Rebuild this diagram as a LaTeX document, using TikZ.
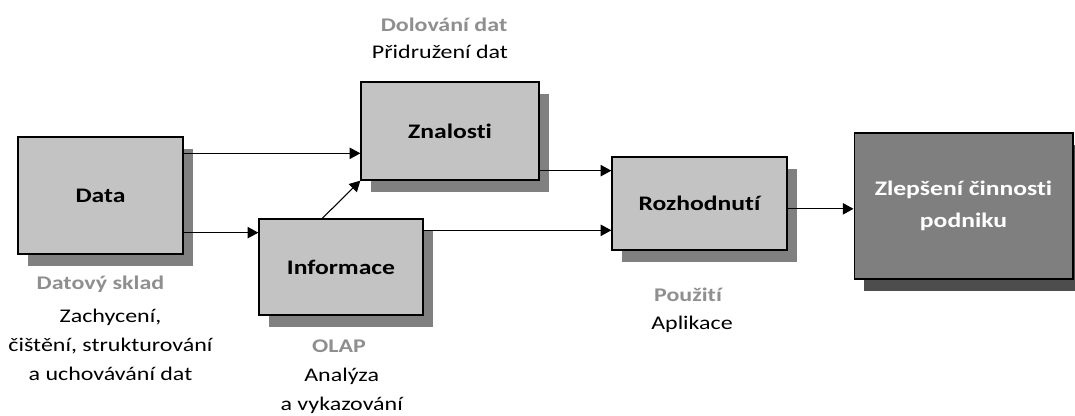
\documentclass[tikz,border=0pt]{standalone}
\usepackage{fontspec}
\setmainfont{Carlito}[FakeStretch=1.24,Ligatures=NoCommon]
\usepackage{xcolor}
\usetikzlibrary{positioning, arrows.meta, shadows}

\definecolor{boxgray}{HTML}{C3C3C3}
\definecolor{shadegray}{HTML}{808080}
\definecolor{goalgray}{HTML}{7F7F7F}
\definecolor{goalshade}{HTML}{4D4D4D}
\definecolor{taggray}{HTML}{8F8F8F}

\begin{document}
\begin{tikzpicture}[x=0.75pt,y=-0.75pt,>={Triangle[length=8pt,width=8.5pt]},
        stage/.style={draw=black,line width=1pt,fill=boxgray,
          font=\fontsize{15.5}{18}\selectfont\bfseries,
          drop shadow={shadow xshift=7.5pt,shadow yshift=-9pt,fill=shadegray,opacity=1}},
        goal/.style={draw=black,line width=1pt,fill=goalgray,text=white,align=center,
          font=\fontsize{15.5}{24.5}\selectfont\bfseries,
          drop shadow={shadow xshift=7.5pt,shadow yshift=-9pt,fill=goalshade,opacity=1}},
        tag/.style={text=taggray,inner sep=0pt,font=\fontsize{14.5}{18}\selectfont\bfseries},
        desc/.style={align=center,inner sep=0pt,font=\fontsize{14.5}{21.75}\selectfont},
        flow/.style={->,line width=0.8pt}]

    \useasboundingbox (0,0) rectangle (1075,416);

    % the boxes
    \node[stage,minimum width=123.75pt,minimum height=87.75pt] (data) at (100.5,195.5) {Data};
    \node[stage,minimum width=133.5pt,minimum height=73.5pt] (znalosti) at (450,131) {Znalosti};
    \node[stage,minimum width=123pt,minimum height=72pt] (informace) at (341,267) {Informace};
    \node[stage,minimum width=131.25pt,minimum height=69.75pt] (rozhodnuti) at (699.5,203.5) {Rozhodnutí};
    \node[goal,minimum width=164pt,minimum height=109.5pt] (zlepseni) at (963.5,206) {Zlepšení činnosti\\podniku};

    % labels
    \node[tag,below=16pt of data] (sklad) {Datový sklad};
    \node[desc,below=12pt of sklad,xshift=7.5pt] (skladtext) {Zachycení,\\čištění, strukturování\\a uchovávání dat};
    \node[tag,below=18pt of informace,xshift=-1.5pt] (olap) {OLAP};
    \node[desc,below=11pt of olap,xshift=2pt] (olaptext) {Analýza\\a vykazování};
    \node[desc,above=16.5pt of znalosti,xshift=-7.5pt] (dolovanitext) {Přidružení dat};
    \node[tag,above=10pt of dolovanitext,xshift=3pt] (dolovani) {Dolování dat};
    \node[tag,below=28pt of rozhodnuti,xshift=-8.6pt] (pouziti) {Použití};
    \node[desc,below=10.5pt of pouziti,xshift=3pt] (pouzititext) {Aplikace};

    % connectors
    \coordinate (d1) at ([yshift=-12.75pt]data.north east);
    \coordinate (d2) at ([yshift=16.5pt]data.south east);
    \coordinate (i1) at ([xshift=48pt]informace.north west);
    \coordinate (i2) at ([yshift=-9pt]informace.north east);
    \coordinate (z1) at ([yshift=7.5pt]znalosti.south east);
    \coordinate (r1) at ([yshift=-4pt]rozhodnuti.east);

    \draw[flow] (d1) -- (d1 -| znalosti.west);
    \draw[flow] (d2) -- (d2 -| informace.west);
    \draw[flow] (i1) -- (znalosti.south west);
    \draw[flow] (z1) -- (z1 -| rozhodnuti.west);
    \draw[flow] (i2) -- (i2 -| rozhodnuti.west);
    \draw[flow] (r1) -- (r1 -| zlepseni.west);
\end{tikzpicture}
\end{document}
